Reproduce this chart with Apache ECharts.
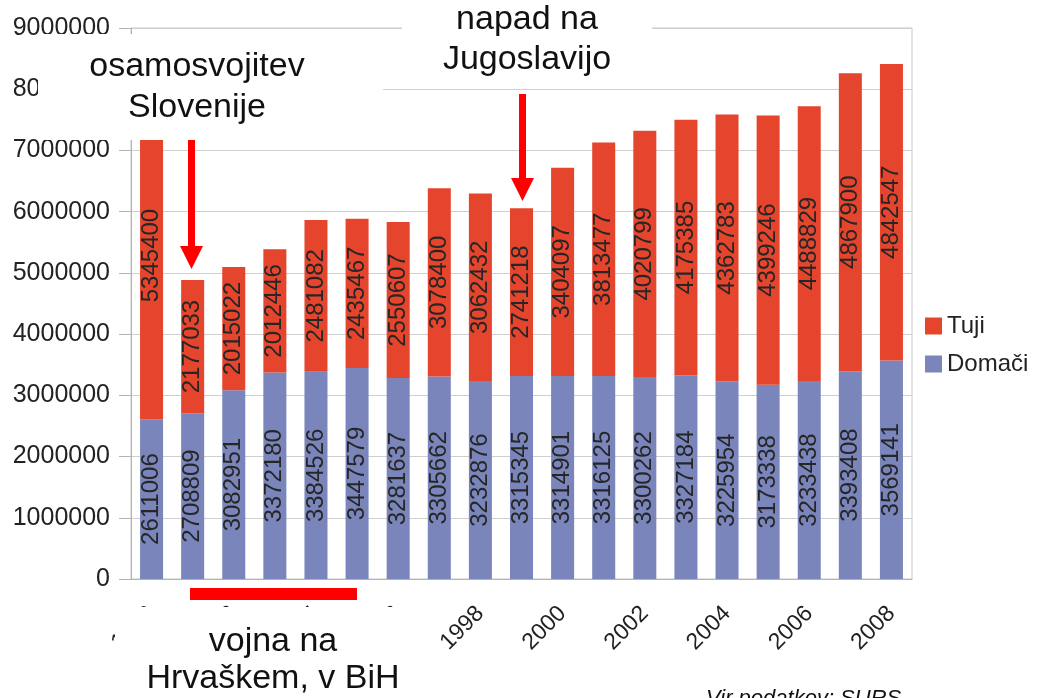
<!DOCTYPE html>
<html>
<head>
<meta charset="utf-8">
<script src="https://cdn.jsdelivr.net/npm/echarts@6/dist/echarts.min.js"></script>
<style>
  html, body { margin: 0; padding: 0; background: #fff; }
  #chart { width: 1042px; height: 698px; }
</style>
</head>
<body>
<div id="chart"></div>
<script>
// podatki: prihodi turistov (SURS)
var years = ['1990', '1991', '1992', '1993', '1994', '1995', '1996', '1997', '1998', '1999',
             '2000', '2001', '2002', '2003', '2004', '2005', '2006', '2007', '2008'];
var domaci = [2611006, 2708809, 3082951, 3372180, 3384526, 3447579, 3281637, 3305662, 3232876, 3315345,
              3314901, 3316125, 3300262, 3327184, 3225954, 3173338, 3233438, 3393408, 3569141];
var tuji = [5345400, 2177033, 2015022, 2012446, 2481082, 2435467, 2550607, 3078400, 3062432, 2741218,
            3404097, 3813477, 4020799, 4175385, 4362783, 4399246, 4488829, 4867900, 4842547];
var yMax = 9000000;
var yStep = 1000000;

var font = '"Liberation Sans", Arial, sans-serif';
var red = '#e6452d';
var blue = '#7a86bb';

var chart = echarts.init(document.getElementById('chart'));

var valueLabel = {
    show: true,
    position: 'inside',
    rotate: 90,
    fontSize: 24,
    fontFamily: font,
    color: '#262626',
    formatter: '{c}'
};

var option = {
    animation: false,
    backgroundColor: '#fff',
    grid: {
        left: 131, right: 130, top: 28, bottom: 119,
        show: true, borderColor: '#c8c8c8', borderWidth: 1
    },
    legend: {
        orient: 'vertical',
        left: 920,
        top: 308,
        itemWidth: 17,
        itemHeight: 17,
        itemGap: 12,
        icon: 'rect',
        data: ['Tuji', 'Domači'],
        textStyle: { fontSize: 24, fontFamily: font, color: '#222', lineHeight: 26 }
    },
    xAxis: {
        type: 'category',
        data: years,
        axisLine: { lineStyle: { color: '#b3b3b3' } },
        axisTick: { interval: 0, length: 11, lineStyle: { color: '#b3b3b3' } },
        axisLabel: {
            interval: 1, rotate: 45, margin: 31,
            fontSize: 23, fontFamily: font, color: '#222'
        }
    },
    yAxis: {
        type: 'value',
        min: 0, max: yMax, interval: yStep,
        axisLine: { show: true, lineStyle: { color: '#b3b3b3' } },
        axisTick: { show: true, length: 12, lineStyle: { color: '#b3b3b3' } },
        splitLine: { lineStyle: { color: '#cfcfcf' } },
        axisLabel: {
            fontSize: 25, fontFamily: font, color: '#222', margin: 21,
            formatter: function (v) { return String(v); }
        }
    },
    series: [
        {
            name: 'Domači', type: 'bar', stack: 'all',
            barCategoryGap: '44%',
            itemStyle: { color: blue },
            label: valueLabel,
            data: domaci
        },
        {
            name: 'Tuji', type: 'bar', stack: 'all',
            barCategoryGap: '44%',
            itemStyle: { color: red },
            label: valueLabel,
            data: tuji
        }
    ],
    graphic: [
        // okvirji z belim ozadjem
        { type: 'rect', z: 100, shape: { x: 38, y: 34, width: 345, height: 106 }, style: { fill: '#fff' } },
        { type: 'rect', z: 100, shape: { x: 402, y: 0, width: 250, height: 89 }, style: { fill: '#fff' } },
        { type: 'rect', z: 100, shape: { x: 115, y: 607, width: 318, height: 91 }, style: { fill: '#fff' } },
        {
            type: 'text', z: 101, x: 197, y: 87,
            style: {
                text: 'osamosvojitev\nSlovenije', font: '34px ' + font, lineHeight: 41,
                fill: '#111', textAlign: 'center', textVerticalAlign: 'middle'
            }
        },
        {
            type: 'text', z: 101, x: 527, y: 40,
            style: {
                text: 'napad na\nJugoslavijo', font: '34px ' + font, lineHeight: 40,
                fill: '#111', textAlign: 'center', textVerticalAlign: 'middle'
            }
        },
        {
            type: 'text', z: 101, x: 273, y: 660,
            style: {
                text: 'vojna na\nHrvaškem, v BiH', font: '34px ' + font, lineHeight: 37,
                fill: '#111', textAlign: 'center', textVerticalAlign: 'middle'
            }
        },
        // puscice
        {
            type: 'polygon', z: 102,
            shape: { points: [[188, 140], [195, 140], [195, 246], [203, 246], [191.5, 269], [180, 246], [188, 246]] },
            style: { fill: '#ff0000' }
        },
        {
            type: 'polygon', z: 102,
            shape: { points: [[519, 94], [526, 94], [526, 178], [534, 178], [522.5, 201], [511, 178], [519, 178]] },
            style: { fill: '#ff0000' }
        },
        { type: 'rect', z: 102, shape: { x: 190, y: 588, width: 167, height: 12 }, style: { fill: '#ff0000' } },
        {
            type: 'text', z: 101, x: 706, y: 688,
            style: { text: 'Vir podatkov: SURS', font: 'italic 22px ' + font, fill: '#111', textVerticalAlign: 'top' }
        }
    ]
};

chart.setOption(option);
</script>
</body>
</html>
